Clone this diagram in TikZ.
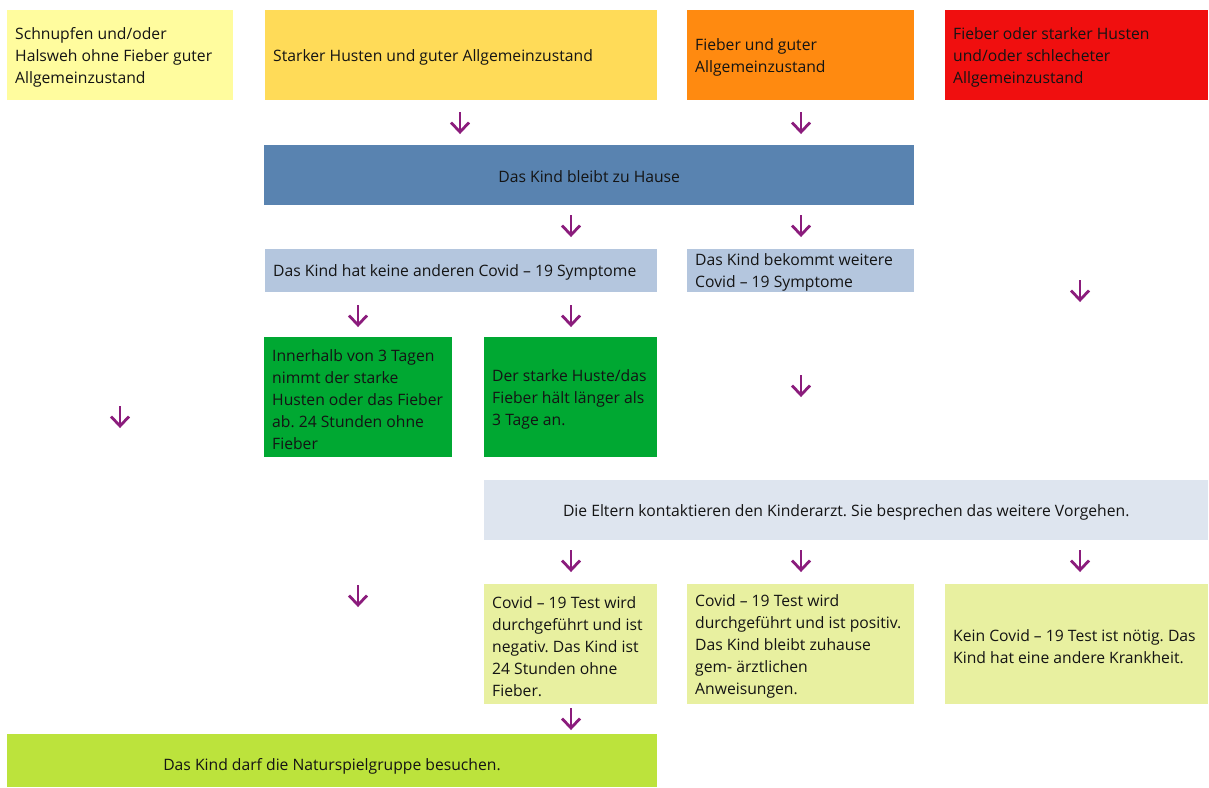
\documentclass[tikz,border=0pt]{standalone}
\usepackage{fontspec}
\setmainfont{Open Sans}
\frenchspacing
\definecolor{cA}{HTML}{FFFC9E}
\definecolor{cB}{HTML}{FFDB58}
\definecolor{cC}{HTML}{FF8A10}
\definecolor{cD}{HTML}{F00F0F}
\definecolor{cE}{HTML}{5983B0}
\definecolor{cF}{HTML}{B4C6DE}
\definecolor{cH}{HTML}{00A832}
\definecolor{cJ}{HTML}{DEE5EF}
\definecolor{cK}{HTML}{E8F0A0}
\definecolor{cN}{HTML}{BCE33C}
\definecolor{cArr}{HTML}{8B1C7C}
\definecolor{cTxt}{HTML}{141414}
\begin{document}
\begin{tikzpicture}[x=1pt,y=-1pt,
  bx/.style={rectangle, anchor=north west, inner sep=0pt},
  lt/.style={anchor=west, inner sep=0pt, align=left, text=cTxt,
    font=\fontsize{15.7}{22}\selectfont},
  ct/.style={lt, anchor=center, align=center},
  darr/.pic={
    \draw[cArr, line width=2.8pt] (0,0) -- (0,19);
    \draw[cArr, line width=2.8pt, line join=miter] (-9,10.5) -- (0,20) -- (9,10.5);
  }]
\useasboundingbox (0,0) rectangle (1209,787);
% top row
\node[bx, fill=cA, minimum width=226pt, minimum height=90pt] (a) at (7,10) {};
\node[lt] (at) at ([xshift=8pt,yshift=-2pt]a.west)
  {Schnupfen und/oder\\Halsweh ohne Fieber guter\\Allgemeinzustand};
\node[bx, fill=cB, minimum width=392pt, minimum height=90pt] (b) at (265,10) {};
\node[lt] (bt) at ([xshift=8pt,yshift=-2pt]b.west)
  {Starker Husten und guter Allgemeinzustand};
\node[bx, fill=cC, minimum width=227pt, minimum height=90pt] (c) at (687,10) {};
\node[lt] (ct) at ([xshift=8pt,yshift=-2pt]c.west)
  {Fieber und guter\\Allgemeinzustand};
\node[bx, fill=cD, minimum width=263pt, minimum height=90pt] (d) at (945,10) {};
\node[lt] (dt) at ([xshift=8pt,yshift=-2pt]d.west)
  {Fieber oder starker Husten\\und/oder schlecheter\\Allgemeinzustand};
% second
\node[bx, fill=cE, minimum width=650pt, minimum height=60pt] (e) at (264,145) {};
\node[ct] (et) at ([yshift=-1pt]e.center) {Das Kind bleibt zu Hause};
% third
\node[bx, fill=cF, minimum width=392pt, minimum height=43pt] (f) at (265,249) {};
\node[lt] (ft) at ([xshift=8pt,yshift=-1.5pt]f.west)
  {Das Kind hat keine anderen Covid – 19 Symptome};
\node[bx, fill=cF, minimum width=227pt, minimum height=43pt] (g) at (687,249) {};
\node[lt] (gt) at ([xshift=8pt,yshift=-1.5pt]g.west)
  {Das Kind bekommt weitere\\Covid – 19 Symptome};
% green
\node[bx, fill=cH, minimum width=188pt, minimum height=120pt] (h) at (264,337) {};
\node[lt] (ht) at ([xshift=8pt,yshift=-2pt]h.west)
  {Innerhalb von 3 Tagen\\nimmt der starke\\Husten oder das Fieber\\ab. 24 Stunden ohne\\Fieber};
\node[bx, fill=cH, minimum width=173pt, minimum height=120pt] (i) at (484,337) {};
\node[lt] (it) at ([xshift=8pt,yshift=-2pt]i.west)
  {Der starke Huste/das\\Fieber hält länger als\\3 Tage an.};
% parents
\node[bx, fill=cJ, minimum width=724pt, minimum height=60pt] (j) at (484,480) {};
\node[ct] (jt) at ([yshift=-2pt]j.center)
  {Die Eltern kontaktieren den Kinderarzt. Sie besprechen das weitere Vorgehen.};
% results
\node[bx, fill=cK, minimum width=173pt, minimum height=120pt] (k) at (484,584) {};
\node[lt] (kt) at ([xshift=8pt,yshift=-2pt]k.west)
  {Covid – 19 Test wird\\durchgeführt und ist\\negativ. Das Kind ist\\24 Stunden ohne\\Fieber.};
\node[bx, fill=cK, minimum width=227pt, minimum height=120pt] (l) at (687,584) {};
\node[lt] (lt) at ([xshift=8pt,yshift=-2pt]l.west)
  {Covid – 19 Test wird\\durchgeführt und ist positiv.\\Das Kind bleibt zuhause\\gem- ärztlichen\\Anweisungen.};
\node[bx, fill=cK, minimum width=263pt, minimum height=120pt] (m) at (945,584) {};
\node[lt] (mt) at ([xshift=8pt,yshift=-2pt]m.west)
  {Kein Covid – 19 Test ist nötig. Das\\Kind hat eine andere Krankheit.};
% final
\node[bx, fill=cN, minimum width=650pt, minimum height=53pt] (n) at (7,734) {};
\node[ct] (nt) at (332,766) {Das Kind darf die Naturspielgruppe besuchen.};
% arrows
\pic at (460,112) {darr};
\pic at (801,112) {darr};
\pic at (571,215) {darr};
\pic at (801,215) {darr};
\pic at (1080,280) {darr};
\pic at (358,305) {darr};
\pic at (571,305) {darr};
\pic at (801,375) {darr};
\pic at (120,406) {darr};
\pic at (571,550) {darr};
\pic at (801,550) {darr};
\pic at (1080,550) {darr};
\pic at (358,585) {darr};
\pic at (571,708) {darr};
\end{tikzpicture}
\end{document}
